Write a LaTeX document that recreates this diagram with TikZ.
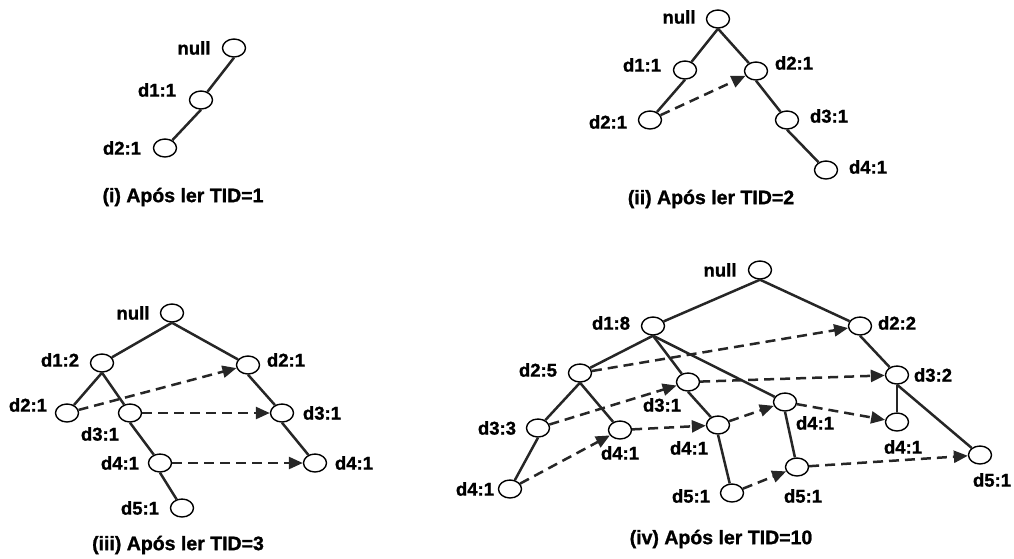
\documentclass[tikz,border=0pt]{standalone}
\usepackage{fontspec}
\newfontfamily\lbl[FakeBold=1.2]{Liberation Sans}
\usetikzlibrary{shapes.geometric,arrows.meta}
\begin{document}
\begin{tikzpicture}[x=1pt,y=-1pt,
  nd/.style={ellipse,draw,line width=1.4pt,fill=white,minimum width=23pt,minimum height=18pt,inner sep=0pt},
  lb/.style={font=\lbl\bfseries\fontsize{18.5}{21}\selectfont,inner sep=0pt},
  captxt/.style={font=\lbl\bfseries\fontsize{19.5}{22}\selectfont,inner sep=0pt},
  edge/.style={line width=2.5pt,black!85},
  link/.style={line width=2.5pt,black!85,dash pattern=on 10pt off 6pt,-{Triangle[length=14pt,width=12pt]}}]
\useasboundingbox (0,0) rectangle (1014,558);

% ---------- (i) ----------
\node[nd] (a0) at (234,48) {};
\node[nd] (a1) at (201,100) {};
\node[nd] (a2) at (165,148) {};
\node[lb] (a0l) at (194,48) {null};
\node[lb] (a1l) at (157,90) {d1:1};
\node[lb] (a2l) at (122,148) {d2:1};
\draw[edge] (a0.south) -- (a1);
\draw[edge] (a1.south) -- (a2);
\node[captxt] (ca) at (183,197) {(i) Após ler TID=1};

% ---------- (ii) ----------
\node[nd] (b0) at (718,19) {};
\node[nd] (b1) at (685,70) {};
\node[nd] (b2) at (756,71) {};
\node[nd] (b3) at (650,120) {};
\node[nd] (b4) at (787,120) {};
\node[nd] (b5) at (826,170) {};
\node[lb] (b0l) at (679,17) {null};
\node[lb] (b1l) at (642,65) {d1:1};
\node[lb] (b2l) at (794,63) {d2:1};
\node[lb] (b3l) at (608,122) {d2:1};
\node[lb] (b4l) at (829,116) {d3:1};
\node[lb] (b5l) at (868,167) {d4:1};
\draw[edge] (b0.south) -- (b1);
\draw[edge] (b0.south) -- (b2);
\draw[edge] (b1.south) -- (b3);
\draw[edge] (b2.south) -- (b4);
\draw[edge] (b4.south) -- (b5);
\draw[link] (b3) -- (b2);
\node[captxt] (cb) at (711,199) {(ii) Após ler TID=2};

% ---------- (iii) ----------
\node[nd] (c0) at (172,313) {};
\node[nd] (c1) at (102,363) {};
\node[nd] (c2) at (248,365) {};
\node[nd] (c3) at (67,413) {};
\node[nd] (c4) at (130,413) {};
\node[nd] (c5) at (282,413) {};
\node[nd] (c6) at (160,463) {};
\node[nd] (c7) at (315,463) {};
\node[nd] (c8) at (182,508) {};
\node[lb] (c0l) at (133,313) {null};
\node[lb] (c1l) at (60,360) {d1:2};
\node[lb] (c2l) at (286,360) {d2:1};
\node[lb] (c3l) at (28,405) {d2:1};
\node[lb] (c4l) at (100,434) {d3:1};
\node[lb] (c5l) at (322,413) {d3:1};
\node[lb] (c6l) at (120,463) {d4:1};
\node[lb] (c7l) at (354,463) {d4:1};
\node[lb] (c8l) at (140,508) {d5:1};
\draw[edge] (c0.south) -- (c1);
\draw[edge] (c0.south) -- (c2);
\draw[edge] (c1.south) -- (c3);
\draw[edge] (c1.south) -- (c4);
\draw[edge] (c4.south) -- (c6);
\draw[edge] (c6.south) -- (c8);
\draw[edge] (c2.south) -- (c5);
\draw[edge] (c5.south) -- (c7);
\draw[link] (c3) -- (c2);
\draw[link] (c4) -- (c5);
\draw[link] (c6) -- (c7);
\node[captxt] (cc) at (178,545) {(iii) Após ler TID=3};

% ---------- (iv) ----------
\node[nd] (d0) at (760,270) {};
\node[nd] (d1) at (653,326) {};
\node[nd] (d2) at (860,326) {};
\node[nd] (d3) at (580,373) {};
\node[nd] (d4) at (688,382) {};
\node[nd] (d5) at (897,375) {};
\node[nd] (d6) at (538,428) {};
\node[nd] (d7) at (620,430) {};
\node[nd] (d8) at (718,425) {};
\node[nd] (d9) at (785,402) {};
\node[nd] (d10) at (897,422) {};
\node[nd] (d11) at (510,489) {};
\node[nd] (d12) at (732,493) {};
\node[nd] (d13) at (797,467) {};
\node[nd] (d14) at (980,455) {};
\node[lb] (d0l) at (720,270) {null};
\node[lb] (d1l) at (611,323) {d1:8};
\node[lb] (d2l) at (897,323) {d2:2};
\node[lb] (d3l) at (538,370) {d2:5};
\node[lb] (d4l) at (662,405) {d3:1};
\node[lb] (d5l) at (933,375) {d3:2};
\node[lb] (d6l) at (497,428) {d3:3};
\node[lb] (d7l) at (620,453) {d4:1};
\node[lb] (d8l) at (689,448) {d4:1};
\node[lb] (d9l) at (815,423) {d4:1};
\node[lb] (d10l) at (903,447) {d4:1};
\node[lb] (d11l) at (475,489) {d4:1};
\node[lb] (d12l) at (691,496) {d5:1};
\node[lb] (d13l) at (803,496) {d5:1};
\node[lb] (d14l) at (992,480) {d5:1};
\draw[edge] (d0.south) -- (d1);
\draw[edge] (d0.south) -- (d2);
\draw[edge] (d1.south) -- (d3);
\draw[edge] (d1.south) -- (d4);
\draw[edge] (d1.south) -- (d9);
\draw[edge] (d2.south) -- (d5);
\draw[edge] (d5.south) -- (d10);
\draw[edge] (d5.south) -- (d14);
\draw[edge] (d3.south) -- (d6);
\draw[edge] (d3.south) -- (d7);
\draw[edge] (d6.south) -- (d11);
\draw[edge] (d4.south) -- (d8);
\draw[edge] (d8.south) -- (d12);
\draw[edge] (d9.south) -- (d13);
\draw[link] (d3) -- (d2);
\draw[link] (d6) -- (d4);
\draw[link] (d4) -- (d5);
\draw[link] (d11) -- (d7);
\draw[link] (d7) -- (d8);
\draw[link] (d8) -- (d9);
\draw[link] (d9) -- (d10);
\draw[link] (d12) -- (d13);
\draw[link] (d13) -- (d14);
\node[captxt] (cd) at (721,539) {(iv) Após ler TID=10};
\end{tikzpicture}
\end{document}
